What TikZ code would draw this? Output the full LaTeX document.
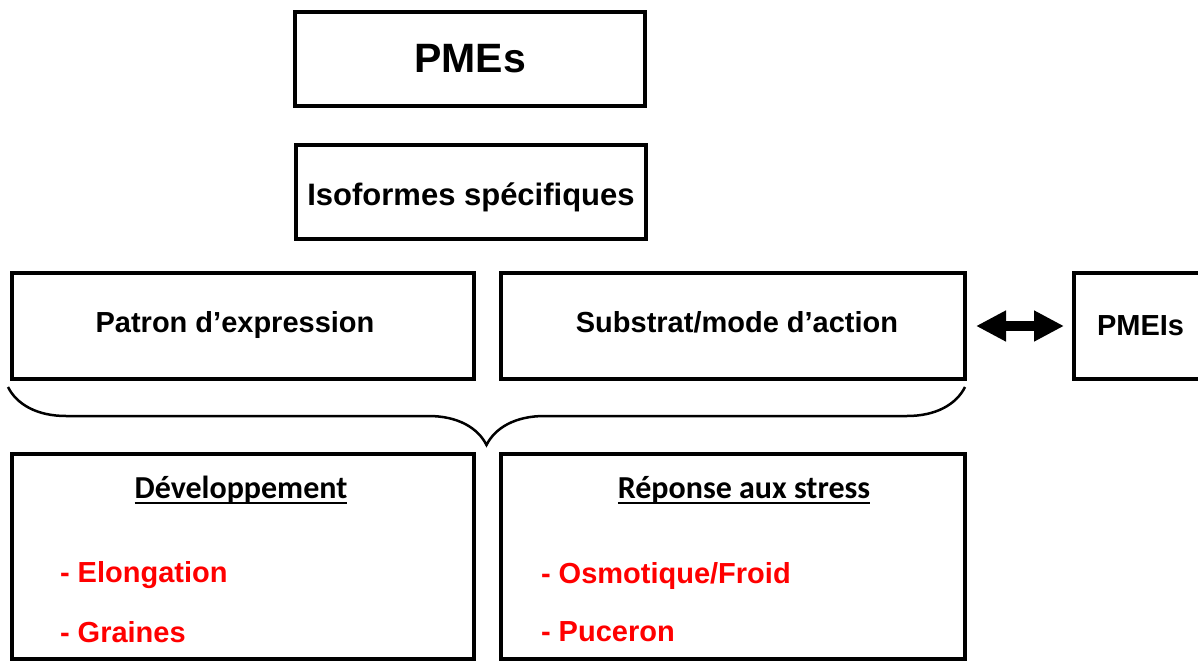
\documentclass[tikz,border=0pt]{standalone}
\usepackage{fontspec}
\setmainfont{Liberation Sans}
\newfontfamily\calib{Carlito}
\usetikzlibrary{arrows.meta,decorations.pathreplacing}
\definecolor{redtxt}{RGB}{255,0,0}
\tikzset{
  box/.style={draw=black, line width=4pt, inner sep=0pt, outer sep=0pt},
  txt/.style={inner sep=0pt, outer sep=0pt, anchor=base, font=\bfseries\fontsize{29}{34}\selectfont},
  head/.style={inner sep=0pt, outer sep=0pt, anchor=base, font=\calib\bfseries\fontsize{32}{38}\selectfont},
  item/.style={inner sep=0pt, outer sep=0pt, anchor=base west, text=redtxt, font=\bfseries\fontsize{29}{34}\selectfont},
  fatarrow/.style={line width=10pt, {Triangle[length=30pt,width=29pt]}-{Triangle[length=30pt,width=29pt]}},
  bracestyle/.style={line width=2.5pt, decorate, decoration={brace, amplitude=58pt, mirror}}
}
\begin{document}
\begin{tikzpicture}[x=1pt,y=-1pt]
\useasboundingbox (0,0) rectangle (1198,663);
\fill[white] (0,0) rectangle (1198,663);
% boxes
\node[box, minimum width=350pt, minimum height=94pt] (pmes) at (470,59) {};
\node[box, minimum width=350pt, minimum height=94pt] (iso) at (471,192) {};
\node[box, minimum width=462pt, minimum height=106pt] (patron) at (243,326) {};
\node[box, minimum width=464pt, minimum height=106pt] (subst) at (733,326) {};
\node[box, minimum width=140pt, minimum height=106pt] (pmeis) at (1144,326) {};
\node[box, minimum width=462pt, minimum height=205pt] (dev) at (243,556.5) {};
\node[box, minimum width=464pt, minimum height=205pt] (rep) at (733,556.5) {};
% texts
\node[txt, font=\bfseries\fontsize{41}{48}\selectfont] (pmes-t) at (470,73) {PMEs};
\node[txt, font=\bfseries\fontsize{31}{36}\selectfont] (iso-t) at (471,205) {Isoformes spécifiques};
\node[txt] (patron-t) at (235,332) {Patron d’expression};
\node[txt] (subst-t) at (737,332) {Substrat/mode d’action};
\node[txt, anchor=base west] (pmeis-t) at (1097,335) {PMEIs};
\node[head] (dev-t) at (241,498) {Développement};
\node[head] (rep-t) at (744,498) {Réponse aux stress};
\draw[line width=2pt] ([yshift=-5pt]dev-t.base west) -- ([yshift=-5pt]dev-t.base east);
\draw[line width=2pt] ([yshift=-5pt]rep-t.base west) -- ([yshift=-5pt]rep-t.base east);
\node[item] (elong) at (60,582) {- Elongation};
\node[item] (grain) at (60,642) {- Graines};
\node[item] (osmo) at (541,583) {- Osmotique/Froid};
\node[item] (puce) at (541,641) {- Puceron};
% connectors
\draw[fatarrow] ([xshift=11pt]subst.east) -- ([xshift=-10pt]pmeis.west);
\coordinate (bl) at ([xshift=-4pt,yshift=-8pt]patron.south west);
\coordinate (br) at ([yshift=-8pt]subst.south east);
\draw[bracestyle] (bl) -- (br);
\end{tikzpicture}
\end{document}
